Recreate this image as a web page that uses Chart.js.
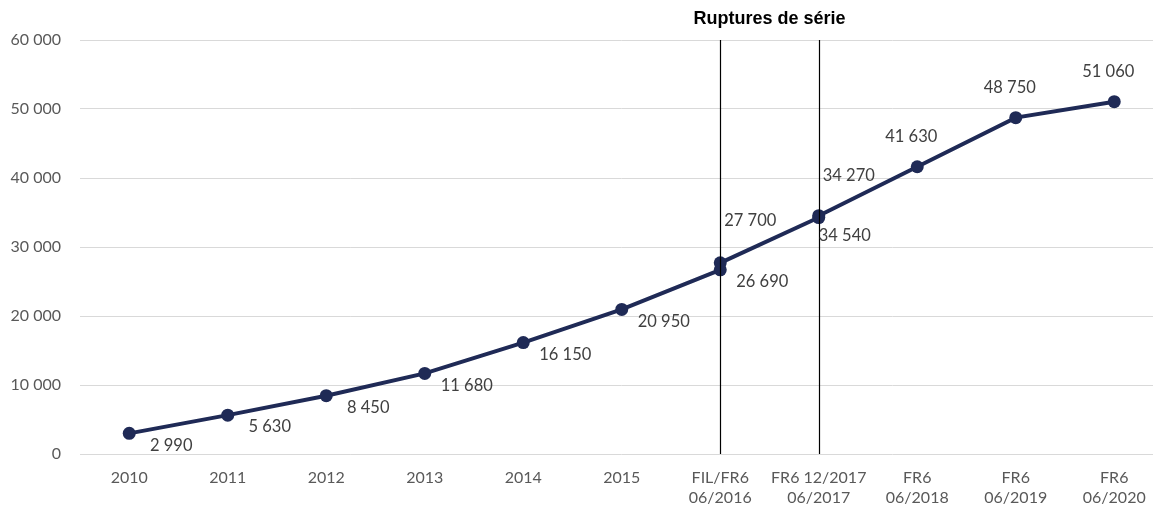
<!DOCTYPE html>
<html>
<head>
<meta charset="utf-8">
<script src="https://cdn.jsdelivr.net/npm/chart.js@4/dist/chart.umd.min.js"></script>
<style>
  html, body { margin: 0; padding: 0; background: #fff; overflow: hidden; }
  #wrap { width: 1170px; height: 507px; position: relative; }
</style>
</head>
<body>
<div id="wrap"><canvas id="chart"></canvas></div>
<script>
// categories de l'axe X
const categories = [
    '2010', '2011', '2012', '2013', '2014', '2015',
    ['FIL/FR6', '06/2016'], ['FR6 12/2017', '06/2017'],
    ['FR6', '06/2018'], ['FR6', '06/2019'], ['FR6', '06/2020']
];

// valeurs par segment (ruptures de série)
const valeursAvant = [2990, 5630, 8450, 11680, 16150, 20950, 26690]; // 2010 -> FIL 06/2016
const valeursMilieu = [27700, 34270];                               // FR6 06/2016 -> 12/2017
const valeursApres = [34540, 41630, 48750, 51060];                  // FR6 06/2017 -> 06/2020

const yTicks = [0, 10000, 20000, 30000, 40000, 50000, 60000];
const ruptures = [6, 7]; // index des catégories avec rupture
const titreRuptures = 'Ruptures de série';

const couleur = '#1f2a56';

// place une série dans le tableau complet (null ailleurs)
function placer(valeurs, debut) {
    const out = categories.map(() => null);
    valeurs.forEach((v, i) => { out[debut + i] = v; });
    return out;
}

function formatNombre(v) {
    return String(v).replace(/\B(?=(\d{3})+(?!\d))/g, ' ');
}

function serie(data, positionEtiquette) {
    return {
        data: data,
        borderColor: couleur,
        backgroundColor: couleur,
        borderWidth: 4,
        pointRadius: 6.5,
        pointHoverRadius: 6.5,
        pointBackgroundColor: couleur,
        pointBorderWidth: 0,
        tension: 0,
        spanGaps: false,
        etiquette: positionEtiquette
    };
}

// étiquettes de données (pas de plugin datalabels disponible)
const etiquettesPlugin = {
    id: 'etiquettes',
    afterDatasetsDraw(chart) {
        const ctx = chart.ctx;
        ctx.save();
        ctx.font = '16.5px Lato, "Open Sans", sans-serif';
        ctx.fillStyle = '#404040';
        ctx.textAlign = 'center';
        ctx.textBaseline = 'middle';
        chart.data.datasets.forEach((ds, di) => {
            const meta = chart.getDatasetMeta(di);
            let n = 0;
            meta.data.forEach((pt, i) => {
                const v = ds.data[i];
                if (v === null) return;
                const off = ds.etiquette(n);
                ctx.fillText(formatNombre(v), pt.x + off[0], pt.y + off[1]);
                n++;
            });
        });
        ctx.restore();
    }
};

// lignes verticales des ruptures + titre
const rupturesPlugin = {
    id: 'ruptures',
    afterDatasetsDraw(chart) {
        const ctx = chart.ctx;
        const area = chart.chartArea;
        const xs = ruptures.map(i => chart.scales.x.getPixelForValue(i));
        ctx.save();
        ctx.strokeStyle = '#000';
        ctx.lineWidth = 1.2;
        xs.forEach(x => {
            ctx.beginPath();
            ctx.moveTo(Math.round(x) + 0.5, area.top);
            ctx.lineTo(Math.round(x) + 0.5, area.bottom);
            ctx.stroke();
        });
        ctx.fillStyle = '#000';
        ctx.font = 'bold 18px "Liberation Sans", Arial, sans-serif';
        ctx.textAlign = 'center';
        ctx.textBaseline = 'middle';
        ctx.fillText(titreRuptures, (xs[0] + xs[1]) / 2, area.top - 21);
        ctx.restore();
    }
};

const chart = new Chart(document.getElementById('chart'), {
    type: 'line',
    data: {
        labels: categories,
        datasets: [
            serie(placer(valeursAvant, 0), () => [42, 12]),
            serie(placer(valeursMilieu, 6), () => [30, -42]),
            serie(placer(valeursApres, 7), n => n === 0 ? [26, 20] : [-6, -30])
        ]
    },
    options: {
        responsive: true,
        maintainAspectRatio: false,
        animation: false,
        layout: { padding: { top: 40, left: 0, right: 0, bottom: 0 } },
        plugins: {
            legend: { display: false },
            tooltip: { enabled: false }
        },
        scales: {
            x: {
                offset: true,
                grid: { display: false, drawTicks: false },
                border: { display: false },
                ticks: {
                    color: '#595959',
                    font: { size: 16, family: 'Lato, "Open Sans", sans-serif', lineHeight: 1.25 },
                    padding: 14,
                    maxRotation: 0,
                    autoSkip: false
                },
                afterFit(scale) { scale.height = 53; }
            },
            y: {
                min: 0,
                max: 60000,
                afterBuildTicks(scale) { scale.ticks = yTicks.map(v => ({ value: v })); },
                grid: { color: '#d9d9d9', lineWidth: 1, drawTicks: false },
                border: { display: false },
                ticks: {
                    color: '#595959',
                    font: { size: 16, family: 'Lato, "Open Sans", sans-serif' },
                    padding: 19,
                    callback: v => formatNombre(v)
                },
                afterFit(scale) { scale.width = 80; }
            }
        }
    },
    plugins: [rupturesPlugin, etiquettesPlugin]
});
</script>
</body>
</html>
